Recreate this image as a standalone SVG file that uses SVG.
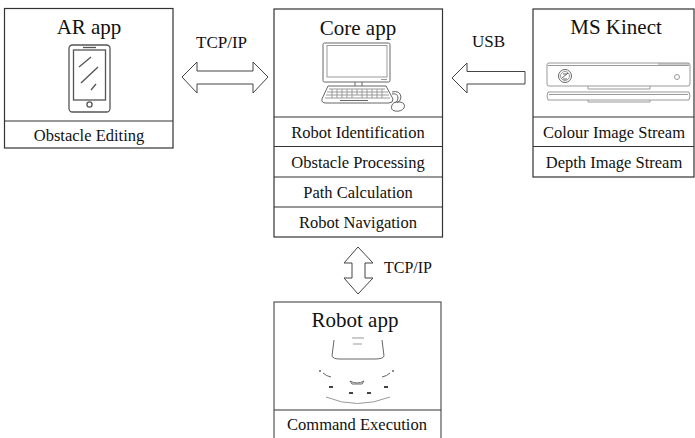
<svg xmlns="http://www.w3.org/2000/svg" width="695" height="438" viewBox="0 0 695 438">
  <style>
    .box { fill: #fff; stroke: #333; stroke-width: 1.2; }
    .div { stroke: #333; stroke-width: 1.2; }
    .title { font-family: "Liberation Serif", "Times New Roman", serif; font-size: 21px; fill: #111; text-anchor: middle; }
    .row { font-family: "Liberation Serif", "Times New Roman", serif; font-size: 16.5px; fill: #111; text-anchor: middle; }
    .lbl { font-family: "Liberation Serif", "Times New Roman", serif; font-size: 16px; fill: #111; }
    .arrow { fill: #fff; stroke: #444; stroke-width: 1; stroke-linejoin: miter; }
    .icon { fill: none; stroke: #555; stroke-width: 1.3; }
    .light { fill: none; stroke: #999; stroke-width: 1; }
    .faint { fill: none; stroke: #666; stroke-width: 1; }
  </style>

  <rect width="695" height="438" fill="#fff"/>

  <!-- AR app -->
  <g id="ar-app">
    <rect class="box" x="4.5" y="8.5" width="168.5" height="139.5"/>
    <line class="div" x1="4.5" y1="121" x2="173" y2="121"/>
    <text class="title" x="89" y="34">AR app</text>
    <!-- phone icon -->
    <rect class="icon" x="69" y="45" width="41" height="67" rx="3.5"/>
    <rect class="icon" x="73.5" y="50" width="32" height="50"/>
    <line class="icon" x1="83" y1="47.5" x2="96" y2="47.5"/>
    <circle class="icon" cx="89.5" cy="104.5" r="2.6"/>
    <line class="icon" x1="79" y1="67" x2="91" y2="57"/>
    <line class="icon" x1="81" y1="83" x2="98" y2="67"/>
    <line class="icon" x1="91" y1="90" x2="96" y2="84"/>
    <text class="row" x="89" y="141">Obstacle Editing</text>
  </g>

  <!-- Core app -->
  <g id="core-app">
    <rect class="box" x="274" y="9" width="168.5" height="228"/>
    <line class="div" x1="274" y1="117" x2="442.5" y2="117"/>
    <line class="div" x1="274" y1="146.5" x2="442.5" y2="146.5"/>
    <line class="div" x1="274" y1="177" x2="442.5" y2="177"/>
    <line class="div" x1="274" y1="207" x2="442.5" y2="207"/>
    <text class="title" x="358" y="35">Core app</text>
    <!-- desktop computer icon -->
    <rect class="faint" x="323" y="43" width="67" height="39" rx="1.5"/>
    <rect class="light" x="327" y="45.5" width="60" height="31.5"/>
    <line class="light" x1="381" y1="79.5" x2="387" y2="79.5"/>
    <path class="faint" d="M355 82 V86 M362 82 V86"/>
    <path class="faint" d="M328 86 H386 L393 99 Q393 103 389 103 H326 Q321 103 322 99 Z"/>
    <path class="light" d="M329 89 H385 M327 92 H388 M326 95 H389 M325 98 H390"/>
    <path class="light" d="M332 89 V98 M337 89 V98 M342 89 V98 M347 89 V98 M352 89 V98 M357 89 V95 M362 89 V98 M367 89 V98 M372 89 V98 M377 89 V98 M382 89 V98"/>
    <line class="faint" x1="340" y1="100.5" x2="368" y2="100.5"/>
    <path class="faint" d="M392 92 Q400 90 401 97 Q401 101 397 103"/>
    <path class="faint" d="M392 94 Q398 93 398 98 Q398 101 395 103"/>
    <path class="faint" d="M392 105 Q390 110 395 111 Q401 112 404 108 Q406 103 400 102 Q394 101 392 105 Z"/>
    <text class="row" x="358" y="138">Robot Identification</text>
    <text class="row" x="358" y="168">Obstacle  Processing</text>
    <text class="row" x="358" y="198">Path Calculation</text>
    <text class="row" x="358" y="228">Robot Navigation</text>
  </g>

  <!-- MS Kinect -->
  <g id="ms-kinect">
    <rect class="box" x="533" y="9" width="161" height="168"/>
    <line class="div" x1="533" y1="117" x2="694" y2="117"/>
    <line class="div" x1="533" y1="146.5" x2="694" y2="146.5"/>
    <text class="title" x="616" y="34">MS Kinect</text>
    <!-- sensor bar icon -->
    <rect class="light" x="547" y="63" width="143" height="23" rx="2"/>
    <line class="light" x1="548" y1="65.5" x2="689" y2="65.5"/>
    <line class="light" x1="658" y1="64" x2="689" y2="64" stroke-width="1.5"/>
    <circle class="faint" cx="565" cy="76" r="6.5"/>
    <circle class="light" cx="565" cy="76" r="4.5"/>
    <path class="faint" d="M562 78 L568 73 M563 74 H567 M563 79 H567"/>
    <circle class="light" cx="677" cy="77" r="2.5"/>
    <path class="light" d="M588 86 V89 H650 V86"/>
    <path class="light" d="M548 92 H689 Q691 96 689 100 H548 Q546 96 548 92 Z"/>
    <line class="light" x1="549" y1="94.5" x2="688" y2="94.5"/>
    <path class="light" d="M588 100 V102 H650 V100"/>
    <text class="row" x="614" y="138">Colour Image Stream</text>
    <text class="row" x="614" y="168">Depth Image Stream</text>
  </g>

  <!-- Robot app -->
  <g id="robot-app">
    <rect class="box" x="274" y="302" width="167" height="140" style="stroke:#555"/>
    <line class="div" x1="274" y1="410" x2="441" y2="410"/>
    <text class="title" x="355" y="327">Robot app</text>
    <!-- robot car front view -->
    <path class="faint" d="M334 340 L332 356 Q333 359 340 359 H375 Q383 359 384 356 L382 340"/>
    <path class="light" d="M352 338 H364 M353 344 H362" stroke-width="1.2"/>
    <path class="faint" d="M323 373 Q326 376 331 377 M390 373 Q387 376 382 377"/>
    <circle cx="320" cy="371" r="0.9" fill="#555"/>
    <circle cx="393" cy="371" r="0.9" fill="#555"/>
    <path class="faint" d="M350 381 Q357 385 364 381 L362 384 H352 Z"/>
    <path d="M329 386 h4 v2 h-4 Z M349 392 h4 v2 h-4 Z M367 392 h4 v2 h-4 Z M384 386 h4 v2 h-4 Z" fill="#444"/>
    <path class="light" d="M326 397 Q357 410 390 397"/>
    <text class="row" x="357" y="430">Command Execution</text>
  </g>

  <!-- connectors -->
  <g id="connectors">
    <!-- AR app <-> Core app -->
    <path class="arrow" d="M182 77 L197 62 V71 H253 V62 L268 77 L253 93 V84 H197 V93 Z"/>
    <!-- MS Kinect -> Core app -->
    <path class="arrow" d="M452 78 L467 63 V71.5 H525 V84 H467 V93 Z"/>
    <!-- Core app <-> Robot app -->
    <path class="arrow" d="M358 247 L373 263 H365 V278 H373 L358 294 L344 278 H352 V263 H344 Z"/>
    <text class="lbl" x="196" y="48" style="font-size:17px">TCP/IP</text>
    <text class="lbl" x="472" y="47" style="font-size:17px">USB</text>
    <text class="lbl" x="384" y="273">TCP/IP</text>
  </g>
</svg>
